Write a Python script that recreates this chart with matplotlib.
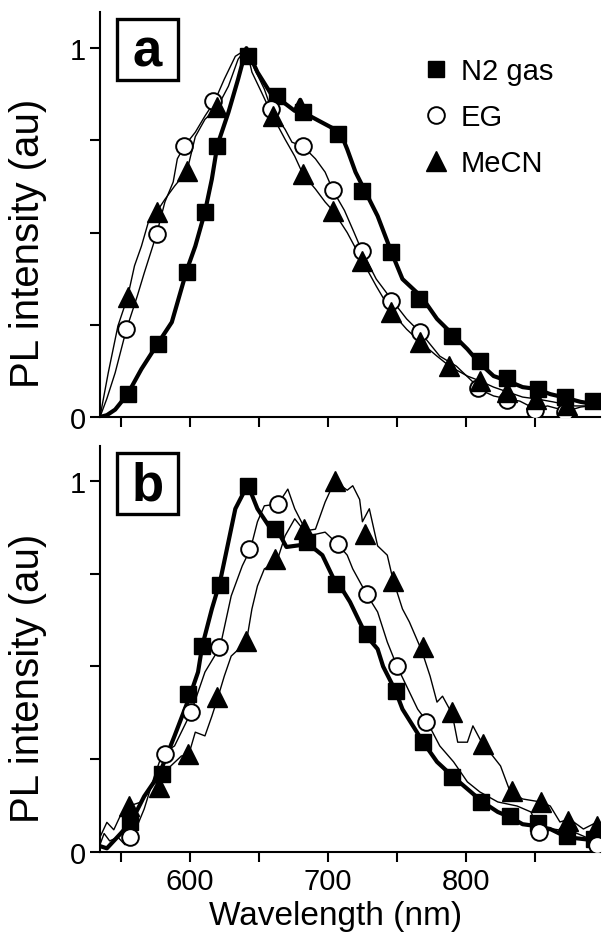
import matplotlib
matplotlib.use('Agg')
import matplotlib.pyplot as plt
from matplotlib.patches import Rectangle

plt.rcParams['font.family'] = ['Liberation Sans', 'DejaVu Sans']

# ---- panel a: spectra (wavelength in nm, normalised PL) ----
a_n2_wl = [535, 540, 546, 555, 565, 577, 587, 598, 604, 611, 616, 620, 628, 635, 641, 649, 659, 663,
           676, 680, 685, 698, 709, 714, 720, 727, 736, 746, 754, 768, 779, 790, 801, 809, 820, 830,
           841, 851, 861, 870, 883, 893, 897]
a_n2_pl = [0.0, 0.005, 0.02, 0.062, 0.13, 0.20, 0.257, 0.40, 0.463, 0.556, 0.645, 0.737, 0.826, 0.916,
           1.0, 0.935, 0.875, 0.867, 0.83, 0.86, 0.82, 0.794, 0.772, 0.726, 0.664, 0.612, 0.545, 0.447,
           0.374, 0.325, 0.266, 0.225, 0.184, 0.149, 0.111, 0.098, 0.081, 0.076, 0.062, 0.054, 0.041,
           0.035, 0.035]
a_eg_wl = [535, 540, 546, 554, 562, 567, 576, 582, 588, 591, 596, 604, 611, 618, 625, 633, 638, 641,
           647, 654, 659, 669, 674, 682, 691, 698, 704, 712, 719, 725, 735, 747, 757, 768, 781, 793,
           805, 809, 820, 830, 839, 850, 859, 873, 883, 890, 897]
a_eg_pl = [0.0, 0.05, 0.12, 0.236, 0.328, 0.39, 0.496, 0.583, 0.637, 0.70, 0.734, 0.772, 0.816, 0.856,
           0.916, 0.978, 0.99, 1.0, 0.943, 0.889, 0.835, 0.78, 0.745, 0.734, 0.70, 0.664, 0.612, 0.56,
           0.50, 0.447, 0.374, 0.314, 0.266, 0.225, 0.165, 0.138, 0.095, 0.076, 0.057, 0.049, 0.043,
           0.022, 0.03, 0.016, 0.027, 0.03, 0.025]
a_mecn_wl = [535, 541, 548, 555, 560, 565, 570, 576, 582, 589, 598, 604, 611, 620, 628, 635, 641, 645,
             652, 660, 669, 676, 682, 691, 698, 704, 714, 725, 735, 746, 757, 767, 779, 788, 801, 810,
             820, 830, 841, 851, 863, 877, 890, 897]
a_mecn_pl = [0.0, 0.12, 0.247, 0.325, 0.41, 0.463, 0.528, 0.556, 0.59, 0.626, 0.667, 0.76, 0.807, 0.84,
             0.897, 0.97, 1.0, 0.935, 0.88, 0.816, 0.753, 0.707, 0.658, 0.618, 0.583, 0.558, 0.50,
             0.423, 0.355, 0.285, 0.238, 0.203, 0.165, 0.138, 0.111, 0.098, 0.081, 0.068, 0.054, 0.049,
             0.041, 0.03, 0.03, 0.03]

# symbol positions on the panel a curves
a_n2_sym_wl = [555, 577, 598, 611, 620, 642, 663, 682, 707, 725, 746, 766, 790, 810, 830, 852, 872, 892]
a_n2_sym_pl = [0.062, 0.198, 0.393, 0.556, 0.734, 0.978, 0.87, 0.827, 0.767, 0.612, 0.447, 0.32, 0.22,
               0.152, 0.105, 0.076, 0.054, 0.043]
a_eg_sym_wl = [554, 576, 596, 617, 659, 682, 704, 725, 746, 767, 809, 830, 850, 872]
a_eg_sym_pl = [0.238, 0.496, 0.734, 0.856, 0.835, 0.734, 0.615, 0.45, 0.314, 0.23, 0.078, 0.046, 0.018,
               0.014]
a_mecn_sym_wl = [555, 576, 598, 620, 660, 682, 704, 725, 746, 767, 788, 810, 830, 851, 873]
a_mecn_sym_pl = [0.325, 0.556, 0.667, 0.84, 0.816, 0.658, 0.558, 0.423, 0.285, 0.203, 0.138, 0.098,
                 0.068, 0.049, 0.032]

# ---- panel b ----
b_n2_wl = [535, 540, 545, 550, 558, 567, 578, 589, 600, 606, 609, 616, 622, 628, 633, 642, 649, 657,
           663, 670, 676, 686, 696, 705, 710, 716, 723, 728, 736, 740, 749, 754, 769, 779, 790, 801,
           812, 823, 832, 841, 851, 861, 873, 885, 897]
b_n2_pl = [0.016, 0.01, 0.03, 0.05, 0.084, 0.15, 0.21, 0.313, 0.42, 0.485, 0.555, 0.655, 0.73, 0.836,
           0.925, 0.99, 0.925, 0.88, 0.87, 0.822, 0.825, 0.83, 0.80, 0.73, 0.71, 0.674, 0.62, 0.582,
           0.547, 0.50, 0.434, 0.385, 0.296, 0.243, 0.205, 0.17, 0.135, 0.108, 0.094, 0.075, 0.07,
           0.062, 0.04, 0.035, 0.03]
b_eg_wl = [535, 538, 542, 548, 553, 558, 567, 574, 580, 589, 601, 611, 622, 630, 638, 644, 649, 654,
           664, 671, 676, 686, 698, 707, 714, 718, 728, 736, 743, 750, 757, 765, 772, 781, 791, 801,
           810, 823, 837, 847, 854, 863, 878, 895, 897]
b_eg_pl = [0.02, 0.05, 0.03, 0.04, 0.02, 0.035, 0.116, 0.2, 0.264, 0.286, 0.377, 0.485, 0.553, 0.69,
           0.771, 0.817, 0.89, 0.933, 0.938, 0.978, 0.925, 0.852, 0.862, 0.83, 0.80, 0.763, 0.695,
           0.647, 0.566, 0.501, 0.447, 0.385, 0.35, 0.286, 0.243, 0.189, 0.162, 0.135, 0.124, 0.108,
           0.049, 0.062, 0.054, 0.027, 0.03]
b_mecn_wl = [535, 540, 545, 550, 556, 565, 575, 578, 584, 594, 599, 604, 611, 616, 620, 625, 630, 641,
             645, 649, 654, 663, 669, 676, 683, 691, 698, 705, 714, 718, 723, 725, 730, 736, 743, 747,
             754, 759, 768, 774, 779, 783, 790, 794, 801, 805, 812, 817, 825, 832, 841, 854, 861, 868,
             875, 885, 895, 897]
b_mecn_pl = [0.04, 0.08, 0.06, 0.1, 0.124, 0.135, 0.189, 0.175, 0.224, 0.259, 0.259, 0.323, 0.313,
             0.366, 0.412, 0.474, 0.528, 0.566, 0.655, 0.717, 0.763, 0.782, 0.852, 0.898, 0.865, 0.87,
             0.943, 1.0, 0.975, 0.987, 0.95, 0.89, 0.925, 0.825, 0.80, 0.736, 0.655, 0.62, 0.542,
             0.474, 0.404, 0.42, 0.372, 0.296, 0.296, 0.34, 0.291, 0.27, 0.232, 0.162, 0.143, 0.135,
             0.124, 0.081, 0.089, 0.062, 0.081, 0.07]

b_n2_sym_wl = [557, 580, 599, 609, 622, 642, 662, 685, 706, 728, 749, 769, 790, 811, 832, 852, 873, 893]
b_n2_sym_pl = [0.081, 0.21, 0.426, 0.555, 0.72, 0.985, 0.87, 0.835, 0.722, 0.588, 0.434, 0.296, 0.202,
               0.135, 0.097, 0.078, 0.043, 0.035]
b_eg_sym_wl = [557, 582, 601, 621, 643, 664, 707, 728, 750, 771, 853, 895]
b_eg_sym_pl = [0.04, 0.264, 0.377, 0.553, 0.817, 0.938, 0.83, 0.695, 0.501, 0.35, 0.054, 0.02]
b_mecn_sym_wl = [556, 578, 599, 620, 641, 662, 683, 705, 727, 747, 769, 790, 812, 833, 854, 874, 895]
b_mecn_sym_pl = [0.124, 0.175, 0.264, 0.418, 0.569, 0.79, 0.87, 1.0, 0.857, 0.73, 0.553, 0.377, 0.291,
                 0.164, 0.135, 0.084, 0.07]

labels = ['N2 gas', 'EG', 'MeCN']
panel_names = ['a', 'b']
x_ticks = [550, 600, 650, 700, 750, 800, 850]
x_ticklabels = ['', '600', '', '700', '', '800', '']
y_ticks = [0, 0.25, 0.5, 0.75, 1]
y_ticklabels = ['0', '', '', '', '1']

fig = plt.figure(figsize=(6.03, 9.37), dpi=100)
ax_a = fig.add_axes([0.1658, 0.5539, 0.8292, 0.4322])
ax_b = fig.add_axes([0.1658, 0.0896, 0.8292, 0.4333])

panels = [
    (ax_a, (a_n2_wl, a_n2_pl), (a_eg_wl, a_eg_pl), (a_mecn_wl, a_mecn_pl),
     (a_n2_sym_wl, a_n2_sym_pl), (a_eg_sym_wl, a_eg_sym_pl), (a_mecn_sym_wl, a_mecn_sym_pl), 1.098),
    (ax_b, (b_n2_wl, b_n2_pl), (b_eg_wl, b_eg_pl), (b_mecn_wl, b_mecn_pl),
     (b_n2_sym_wl, b_n2_sym_pl), (b_eg_sym_wl, b_eg_sym_pl), (b_mecn_sym_wl, b_mecn_sym_pl), 1.094),
]

for i, (ax, n2, eg, mecn, n2s, egs, mecns, ytop) in enumerate(panels):
    ax.plot(eg[0], eg[1], color='black', lw=1.0, zorder=2)
    ax.plot(mecn[0], mecn[1], color='black', lw=1.0, zorder=2)
    ax.plot(n2[0], n2[1], color='black', lw=3.0, zorder=3)

    ax.plot(n2s[0], n2s[1], ls='none', marker='s', ms=12, mfc='black', mec='black',
            label=labels[0], zorder=4)
    ax.plot(egs[0], egs[1], ls='none', marker='o', ms=12, mfc='white', mec='black', mew=1.4,
            label=labels[1], zorder=5)
    ax.plot(mecns[0], mecns[1], ls='none', marker='^', ms=14, mfc='black', mec='black',
            label=labels[2], zorder=5)

    ax.set_xlim(535, 897)
    ax.set_ylim(0, ytop)
    for side in ['top', 'right']:
        ax.spines[side].set_visible(False)
    for side in ['left', 'bottom']:
        ax.spines[side].set_linewidth(1.5)

    ax.set_xticks(x_ticks)
    ax.set_yticks(y_ticks)
    ax.set_yticklabels(y_ticklabels)
    if i == 1:
        ax.set_xticklabels(x_ticklabels)
        ax.set_xlabel('Wavelength (nm)', fontsize=24)
        ax.xaxis.set_label_coords(0.472, -0.117)
    else:
        ax.set_xticklabels([''] * len(x_ticks))
    ax.tick_params(direction='out', length=7, width=1.5, labelsize=21)
    ax.tick_params(axis='x', pad=4)
    ax.tick_params(axis='y', pad=3)

    ax.set_ylabel('PL intensity (au)', fontsize=29)
    ax.yaxis.set_label_coords(-0.105, 0.43)

    # boxed panel letter
    ax.add_patch(Rectangle((0.034, 0.832), 0.122, 0.151, transform=ax.transAxes,
                           fill=False, ec='black', lw=2.4, zorder=6, clip_on=False))
    ax.text(0.095, 0.868, panel_names[i], transform=ax.transAxes, fontsize=38,
            fontweight='bold', ha='center', va='baseline', zorder=7)

ax_a.legend(loc='upper left', bbox_to_anchor=(0.646, 0.889), frameon=False, fontsize=21,
            handlelength=0.9, handletextpad=0.4, labelspacing=0.62, borderpad=0,
            borderaxespad=0, numpoints=1)

fig.savefig('out.png', dpi=100)
